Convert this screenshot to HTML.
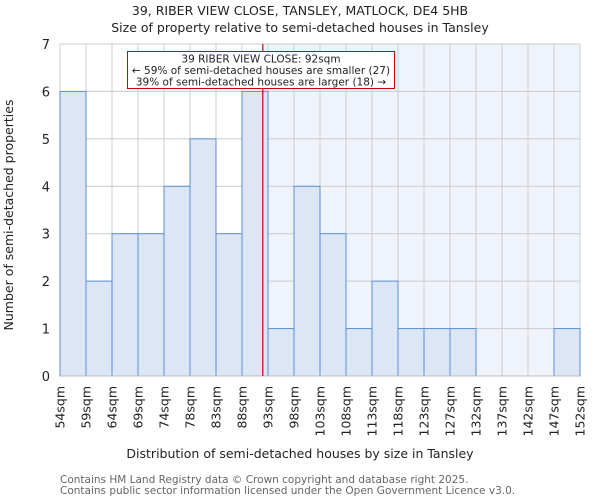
<!DOCTYPE html>
<html><head><meta charset="utf-8"><style>
body{margin:0;background:#fff}
svg{font-family:"DejaVu Sans","Liberation Sans",sans-serif;display:block}
</style></head><body>
<svg id="chart" width="600" height="500">
<text x="300" y="15" text-anchor="middle" font-size="12.5" fill="#222">39, RIBER VIEW CLOSE, TANSLEY, MATLOCK, DE4 5HB</text>
<text x="300" y="32" text-anchor="middle" font-size="12.5" fill="#222">Size of property relative to semi-detached houses in Tansley</text>
<g id="plot"></g>
<text x="300" y="458" text-anchor="middle" font-size="12.5" fill="#222">Distribution of semi-detached houses by size in Tansley</text>
<text transform="translate(13,215) rotate(-90)" text-anchor="middle" font-size="12.5" fill="#222">Number of semi-detached properties</text>
<text x="60" y="483" font-size="10.5" fill="#666">Contains HM Land Registry data © Crown copyright and database right 2025.</text>
<text x="60" y="494" font-size="10.5" fill="#666">Contains public sector information licensed under the Open Government Licence v3.0.</text>
</svg>
<script>
const labels=["54sqm","59sqm","64sqm","69sqm","74sqm","78sqm","83sqm","88sqm","93sqm","98sqm","103sqm","108sqm","113sqm","118sqm","123sqm","127sqm","132sqm","137sqm","142sqm","147sqm","152sqm"];
const counts=[6,2,3,3,4,5,3,6,1,4,3,1,2,1,1,1,0,0,0,1];
const yTicks=[0,1,2,3,4,5,6,7];
const markerBin=7.8;
const NS="http://www.w3.org/2000/svg";
const L=60,R=580,T=44,B=376,yMax=7;
const n=counts.length,bw=(R-L)/n;
const xs=i=>L+i*bw;
const ys=v=>B-(v/yMax)*(B-T);
const g=document.getElementById('plot');
function mk(t,a){const e=document.createElementNS(NS,t);for(const k in a)e.setAttribute(k,a[k]);g.appendChild(e);return e;}
const mx=xs(markerBin);
let e=mk('rect',{x:mx,y:T,width:R-mx,height:B-T,fill:'#eff3fb'});


yTicks.forEach(t=>{
 const l=mk('line',{x1:L,x2:R,y1:ys(t),y2:ys(t),stroke:'#cccccc','stroke-width':1});
 
 
 const tx=mk('text',{x:L-10,y:ys(t)+5,'text-anchor':'end','font-size':13,fill:'#222'});
 tx.textContent=t;
 
 
});
for(let i=0;i<=n;i++){
 const l=mk('line',{x1:xs(i),x2:xs(i),y1:T,y2:B,stroke:'#cccccc','stroke-width':1});
 
 
}
counts.forEach((c,i)=>{
 if(c<=0)return;
 const r=mk('rect',{x:xs(i),y:ys(c),width:bw,height:B-ys(c),fill:'#dce6f4',stroke:'#5b8fd6','stroke-width':1});
 
 
});
const ax=mk('line',{x1:L,x2:R,y1:B,y2:B,stroke:'#bbb','stroke-width':1});


labels.forEach((s,i)=>{
 const x=xs(i);
 const t=mk('text',{transform:`translate(${x+4.5},386) rotate(-90)`,'text-anchor':'end','font-size':12.5,fill:'#222'});
 t.textContent=s;
 
 
});
const ml=mk('line',{x1:mx,x2:mx,y1:T,y2:B,stroke:'#cc0000','stroke-width':1.2});


const box=mk('rect',{x:127.5,y:51.5,width:267,height:37,fill:'#fff',stroke:'#cc0000','stroke-width':1});


["39 RIBER VIEW CLOSE: 92sqm","← 59% of semi-detached houses are smaller (27)","39% of semi-detached houses are larger (18) →"].forEach((s,i)=>{
 const t=mk('text',{x:261,y:62.5+i*11.5,'text-anchor':'middle','font-size':10.5,fill:'#222'});
 t.textContent=s;
 
 
});
</script>
</body></html>
